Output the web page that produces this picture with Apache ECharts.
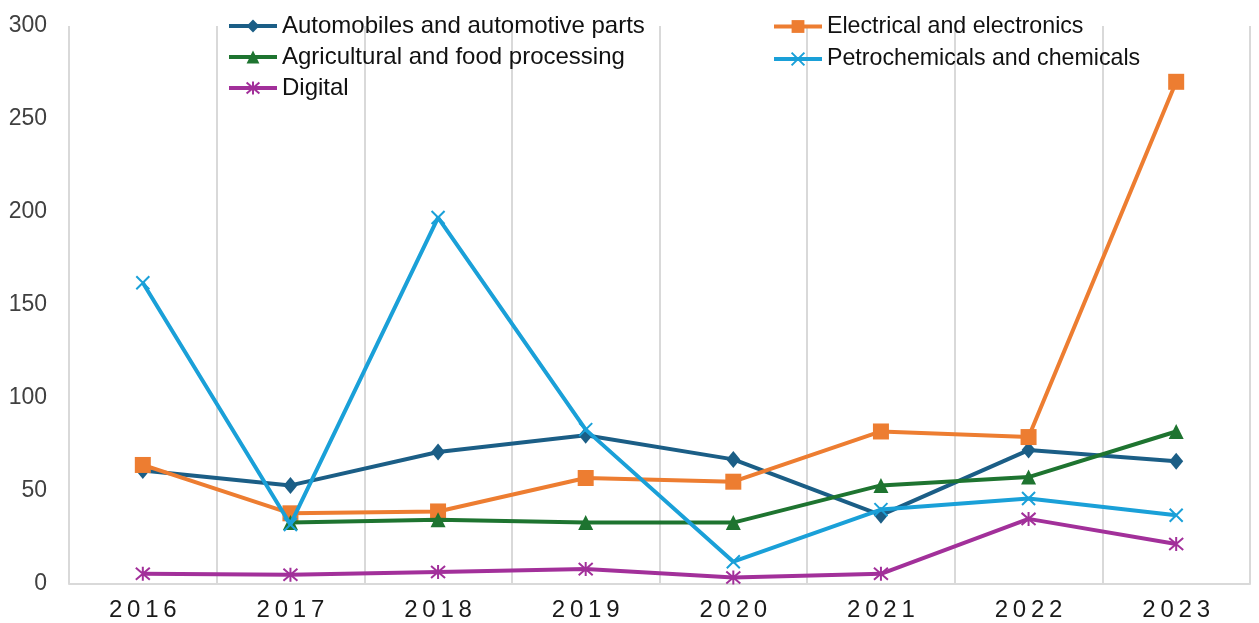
<!DOCTYPE html>
<html>
<head>
<meta charset="utf-8">
<script src="https://cdn.jsdelivr.net/npm/echarts@6/dist/echarts.min.js"></script>
<style>
html,body{margin:0;padding:0;background:#fff;}
#chart{width:1259px;height:623px;}
</style>
</head>
<body>
<div id="chart"></div>
<script>
const years = ['2016','2017','2018','2019','2020','2021','2022','2023'];
const yTicks = [0, 50, 100, 150, 200, 250, 300];
const automobiles = [61, 53, 71, 80, 67, 37, 72, 66];
const electrical = [64, 38, 39, 57, 55, 82, 79, 270];
const agricultural = [null, 33, 34.5, 33, 33, 53, 57.5, 82];
const petrochemicals = [162, 32, 197, 83, 12, 40, 46, 37];
const digital = [5.5, 5, 6.5, 8, 3.5, 5.5, 35, 21.5];

const names = ['Automobiles and automotive parts','Electrical and electronics','Agricultural and food processing','Petrochemicals and chemicals','Digital'];
const colors = ['#1B5E86','#ED7D31','#1E7430','#1AA0D8','#A2309A'];

const xPath = 'path://M0,0L10,10M10,0L0,10';
const starPath = 'path://M5,0L5,10M0.7,0.7L9.3,9.3M9.3,0.7L0.7,9.3';

function mk(i, data, symbol, size, strokeOnly) {
  return {
    name: names[i],
    type: 'line',
    data: data,
    symbol: symbol,
    symbolSize: size,
    showAllSymbol: true,
    connectNulls: false,
    lineStyle: {color: colors[i], width: 4},
    itemStyle: strokeOnly ? {color: colors[i], borderColor: colors[i], borderWidth: 2} : {color: colors[i]},
    emphasis: {disabled: true},
    z: 2 + i
  };
}

const chart = echarts.init(document.getElementById('chart'));
chart.setOption({
  animation: false,
  grid: {left: 69, right: 9, top: 26, bottom: 39, containLabel: false},
  legend: [
    {
      data: [names[0], names[2], names[4]],
      orient: 'vertical', left: 222, top: 9,
      itemWidth: 48, itemHeight: 16, itemGap: 7,
      lineStyle: {width: 4},
      textStyle: {fontFamily: 'Liberation Sans, Arial, sans-serif', fontSize: 24, color: '#111'}
    },
    {
      data: [names[1], names[3]],
      orient: 'vertical', left: 767, top: 10,
      itemWidth: 48, itemHeight: 16, itemGap: 9.5,
      lineStyle: {width: 4},
      textStyle: {fontFamily: 'Liberation Sans, Arial, sans-serif', fontSize: 23.2, color: '#111'}
    }
  ],
  xAxis: {
    type: 'category',
    data: years,
    boundaryGap: true,
    axisLine: {show: true, lineStyle: {color: '#D9D9D9', width: 2}},
    axisTick: {show: false},
    splitLine: {show: true, lineStyle: {color: '#D9D9D9', width: 2}},
    axisLabel: {
      margin: 14,
      fontFamily: 'Liberation Sans, Arial, sans-serif',
      fontSize: 24,
      color: '#1a1a1a',
      formatter: v => v.split('').join('\u2009')
    }
  },
  yAxis: {
    type: 'value',
    min: yTicks[0], max: yTicks[yTicks.length - 1], interval: 50,
    axisLine: {show: false},
    axisTick: {show: false},
    splitLine: {show: false},
    axisLabel: {
      margin: 22,
      fontFamily: 'Liberation Sans, Arial, sans-serif',
      fontSize: 23,
      color: '#404040'
    }
  },
  series: [
    mk(0, automobiles, 'diamond', [14, 17], false),
    mk(1, electrical, 'rect', 16, false),
    mk(2, agricultural, 'triangle', 15, false),
    mk(3, petrochemicals, xPath, 13, true),
    mk(4, digital, starPath, 14, true)
  ]
});
</script>
</body>
</html>
